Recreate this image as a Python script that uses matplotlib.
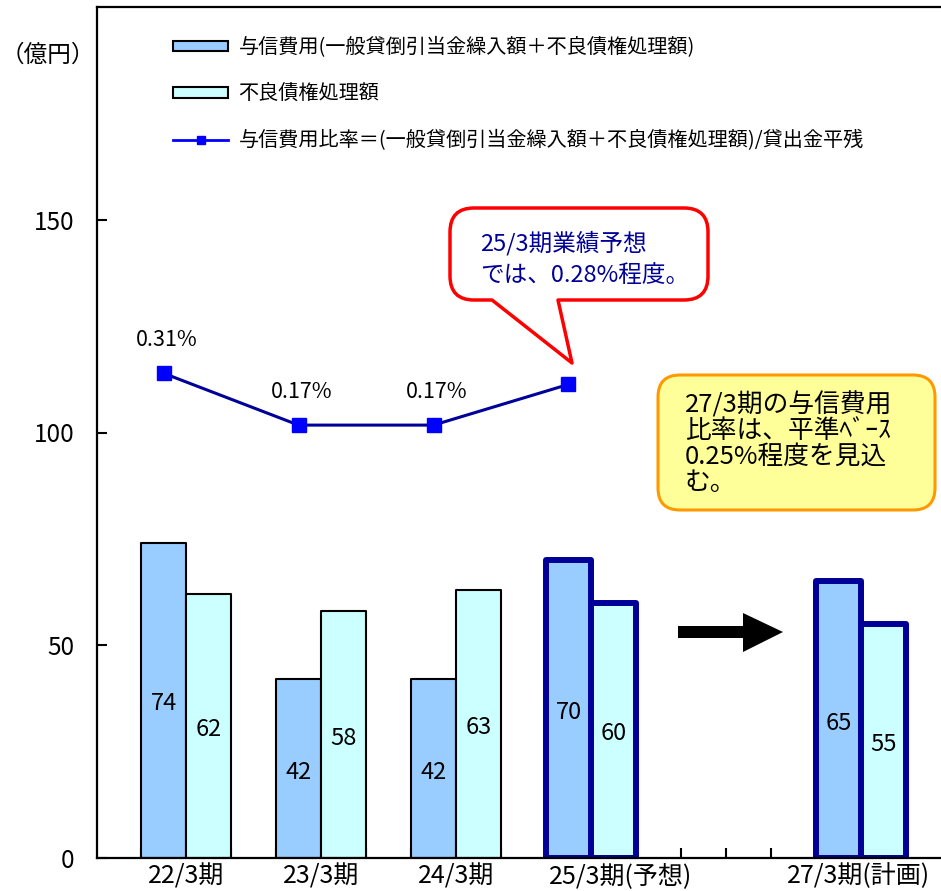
import numpy as np
import matplotlib
matplotlib.use('Agg')
import matplotlib.pyplot as plt
from matplotlib.path import Path
from matplotlib.patches import PathPatch, Polygon, Patch
from matplotlib.lines import Line2D
from matplotlib.transforms import Affine2D, ScaledTranslation

plt.rcParams['font.family'] = ['Noto Sans CJK JP', 'DejaVu Sans']

# 期別の与信費用（億円）と比率（%）
categories = ['22/3期', '23/3期', '24/3期', '25/3期(予想)', '', '27/3期(計画)']
credit_cost = [74, 42, 42, 70, None, 65]
npl_disposal = [62, 58, 63, 60, None, 55]
cost_ratio = [0.31, 0.17, 0.17, 0.28]
highlight = [3, 5]

legend_labels = ['与信費用(一般貸倒引当金繰入額＋不良債権処理額)',
                 '不良債権処理額',
                 '与信費用比率＝(一般貸倒引当金繰入額＋不良債権処理額)/貸出金平残']
note_forecast = '25/3期業績予想\nでは、0.28%程度。'
note_plan = '27/3期の与信費用\n比率は、平準ﾍﾞｰｽ\n0.25%程度を見込\nむ。'

BLUE = '#99CCFF'
CYAN = '#CCFFFF'
NAVY = '#000099'

W, H = 941, 891
fig = plt.figure(figsize=(W / 100, H / 100), dpi=100)
# 画像ピクセル座標（左上原点）で配置するための変換
pix = Affine2D().scale(1 / W, -1 / H).translate(0, 1) + fig.transFigure

ax = fig.add_axes([97 / W, (H - 858) / H, 853 / W, 851 / H])
ax.set_xlim(-0.66, 5.66)
ax.set_ylim(0, 200)

bw = 1 / 3
idx = [i for i, v in enumerate(credit_cost) if v is not None]
ec = [NAVY if i in highlight else 'black' for i in idx]
lw = [4.3 if i in highlight else 1.5 for i in idx]

b1 = ax.bar([i - bw / 2 for i in idx], [credit_cost[i] for i in idx], bw,
            color=BLUE, edgecolor=ec, linewidth=lw, zorder=2)
b2 = ax.bar([i + bw / 2 for i in idx], [npl_disposal[i] for i in idx], bw,
            color=CYAN, edgecolor=ec, linewidth=lw, zorder=2)
for bars in (b1, b2):
    for p in bars:
        p.set_joinstyle('round')
        ax.text(p.get_x() + p.get_width() / 2, p.get_height() / 2 - 0.8,
                f'{p.get_height():.0f}', ha='center', va='center',
                fontsize=17, zorder=3)

ax.spines['right'].set_visible(False)
for s in ('left', 'top', 'bottom'):
    ax.spines[s].set_linewidth(1.6)

ax.set_yticks([0, 50, 100, 150])
ax.tick_params(axis='y', direction='in', length=7, width=1.5, pad=16, labelsize=17.5)
ax.set_xticks(range(len(categories)))
ax.set_xticklabels(categories)
ax.set_xticks([i + d for i in range(len(categories)) for d in (-bw, bw)], minor=True)
ax.tick_params(axis='x', which='both', direction='in', length=7, width=1.5,
               pad=4, labelsize=18)
xl = ax.get_xticklabels()
xl[3].set_transform(xl[3].get_transform() + ScaledTranslation(0.30, 0, fig.dpi_scale_trans))
xl[5].set_transform(xl[5].get_transform() + ScaledTranslation(-0.02, 0, fig.dpi_scale_trans))

# 与信費用比率（第2軸、非表示）
ax2 = ax.twinx()
ax2.set_ylim(-1.0, 1.3)
ax2.axis('off')
rx = [i - bw / 2 for i in range(len(cost_ratio))]
ax2.plot(rx, cost_ratio, color=NAVY, lw=2.2, marker='s', markersize=10.5,
         markerfacecolor='#0000FF', markeredgecolor='#0000FF', zorder=4)
for x, r in zip(rx[:3], cost_ratio[:3]):
    ax2.annotate(f'{r:.2f}%', (x, r), xytext=(2, 24), textcoords='offset points',
                 ha='center', va='center', fontsize=15.5)

fig.text(48, 55, '（億円）', transform=pix, ha='center', va='center', fontsize=17)

handles = [Patch(facecolor=BLUE, edgecolor='black', linewidth=1.5),
           Patch(facecolor=CYAN, edgecolor='black', linewidth=1.5),
           Line2D([], [], color='#0000FF', lw=2, marker='s', markersize=6)]
ax.legend(handles, legend_labels, loc='upper left', bbox_to_anchor=(173, 37),
          bbox_transform=pix, frameon=False, fontsize=14.5, borderpad=0,
          borderaxespad=0, handlelength=2.75, handleheight=0.42,
          handletextpad=0.5, labelspacing=1.27)


def bubble(x0, y0, x1, y1, r, tail=None):
    v = [(x0 + r, y0), (x1 - r, y0), (x1, y0), (x1, y0 + r), (x1, y1 - r),
         (x1, y1), (x1 - r, y1)]
    c = [Path.MOVETO, Path.LINETO, Path.CURVE3, Path.CURVE3, Path.LINETO,
         Path.CURVE3, Path.CURVE3]
    if tail:
        bl, br, tip = tail
        v += [(br, y1), tip, (bl, y1)]
        c += [Path.LINETO] * 3
    v += [(x0 + r, y1), (x0, y1), (x0, y1 - r), (x0, y0 + r), (x0, y0),
          (x0 + r, y0), (x0 + r, y0)]
    c += [Path.LINETO, Path.CURVE3, Path.CURVE3, Path.LINETO, Path.CURVE3,
          Path.CURVE3, Path.CLOSEPOLY]
    return Path(v, c)


fig.patches.append(PathPatch(bubble(450, 208, 708, 300, 24, (492, 558, (572, 363))),
                             transform=pix, facecolor='white', edgecolor='red',
                             lw=2.5, joinstyle='round'))
fig.text(480, 259, note_forecast, transform=pix, ha='left', va='center',
         fontsize=17, color=NAVY, linespacing=1.45)

fig.patches.append(PathPatch(bubble(658, 375, 935, 510, 22), transform=pix,
                             facecolor='#FFFF99', edgecolor='#FF9900', lw=2.2))
fig.text(685, 444, note_plan, transform=pix, ha='left', va='center',
         fontsize=18.5, color='black', linespacing=1.0)

fig.patches.append(Polygon([(678, 626), (743, 626), (743, 613), (783, 632),
                            (743, 652), (743, 638), (678, 638)],
                           transform=pix, facecolor='black', edgecolor='none'))

fig.savefig('out.png', dpi=100)
